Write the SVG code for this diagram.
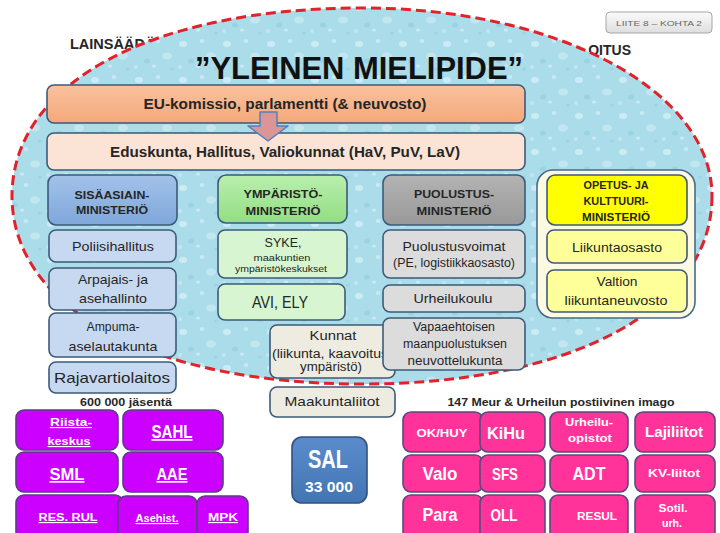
<svg xmlns="http://www.w3.org/2000/svg" width="720" height="533" viewBox="0 0 720 533">
<defs>
<style>
.t{font-family:"Liberation Sans",Arial,sans-serif;fill:#262626;text-anchor:middle}
.b{font-weight:bold}
.w{fill:#ffffff;font-weight:bold}
.u{text-decoration:underline}
.bx{stroke:#3d5a78;stroke-width:1.6}
.pu{fill:#cc00ff;stroke:#5b3c86;stroke-width:1.6}
.pk{fill:#ff3399;stroke:#5a4a7e;stroke-width:1.6}
</style>
<pattern id="drops" width="44" height="36" patternUnits="userSpaceOnUse">
<rect width="44" height="36" fill="#abdcea"/>
<ellipse cx="7" cy="8" rx="4" ry="3" fill="#d4eff7" opacity="0.8"/>
<ellipse cx="26" cy="5" rx="2.5" ry="2" fill="#d4eff7" opacity="0.7"/>
<ellipse cx="35" cy="20" rx="5" ry="3.5" fill="#cdebf4" opacity="0.7"/>
<ellipse cx="15" cy="25" rx="3" ry="2.5" fill="#8fcde0" opacity="0.6"/>
<ellipse cx="22" cy="30" rx="2" ry="1.5" fill="#d4eff7" opacity="0.8"/>
<ellipse cx="40" cy="33" rx="2" ry="1.5" fill="#93cfe1" opacity="0.6"/>
<ellipse cx="4" cy="31" rx="2" ry="2" fill="#c9e9f3" opacity="0.8"/>
</pattern>
<linearGradient id="gLiite" x1="0" y1="0" x2="0" y2="1">
<stop offset="0" stop-color="#fbfbfb"/><stop offset="1" stop-color="#dedede"/>
</linearGradient>
<linearGradient id="gEU" x1="0" y1="0" x2="0" y2="1">
<stop offset="0" stop-color="#f9c29e"/><stop offset="1" stop-color="#f5a87a"/>
</linearGradient>
<linearGradient id="gSis" x1="0" y1="0" x2="0" y2="1">
<stop offset="0" stop-color="#a3c2ea"/><stop offset="1" stop-color="#7fa7da"/>
</linearGradient>
<linearGradient id="gYmp" x1="0" y1="0" x2="0" y2="1">
<stop offset="0" stop-color="#b9efae"/><stop offset="1" stop-color="#92de82"/>
</linearGradient>
<linearGradient id="gPuo" x1="0" y1="0" x2="0" y2="1">
<stop offset="0" stop-color="#b3b3b3"/><stop offset="1" stop-color="#999999"/>
</linearGradient>
<linearGradient id="gSal" x1="0" y1="0" x2="0" y2="1">
<stop offset="0" stop-color="#5a8ccb"/><stop offset="1" stop-color="#4475b3"/>
</linearGradient>
</defs>

<rect width="720" height="533" fill="#ffffff"/>

<g id="liite">
<rect x="606" y="12" width="106" height="21" rx="4" fill="url(#gLiite)" stroke="#a6a6a6" stroke-width="1"/>
<text class="t" x="659" y="26" font-size="8" style="fill:#666666" textLength="86" lengthAdjust="spacingAndGlyphs">LIITE 8 – KOHTA 2</text>
</g>

<g id="headings">
<text class="t b" x="70" y="49" font-size="14.5" style="text-anchor:start">LAINSÄÄDÄ</text>
<text class="t b" x="631" y="55" font-size="14" style="text-anchor:end">OITUS</text>
</g>

<g id="yleinen-mielipide">
<path d="M712,196 C712,308.8 572,384 362,384 C152,384 12,308.8 12,196 C12,83.2 152,8 362,8 C558,8 712,91 712,196 Z" fill="url(#drops)" stroke="#e3212b" stroke-width="3" stroke-dasharray="10 5"/>
<text class="t b" x="359" y="79" font-size="31" style="fill:#111111" textLength="328" lengthAdjust="spacingAndGlyphs">”YLEINEN MIELIPIDE”</text>
</g>

<g id="eu">
<rect class="bx" x="47" y="85" width="478" height="38" rx="7" fill="url(#gEU)"/>
<text class="t b" x="285" y="109" font-size="14" textLength="283" lengthAdjust="spacingAndGlyphs">EU-komissio, parlamentti (&amp; neuvosto)</text>
</g>

<g id="eduskunta">
<rect class="bx" x="47" y="133" width="478" height="37" rx="7" fill="#fbe4d5"/>
<text class="t b" x="285" y="157" font-size="14" textLength="350" lengthAdjust="spacingAndGlyphs">Eduskunta, Hallitus, Valiokunnat (HaV, PuV, LaV)</text>
</g>

<g id="connectors">
<polygon points="260,112 277,112 277,126 288,126 268,141 248,126 260,126" fill="#d99694" stroke="#4f81bd" stroke-width="1.5" stroke-linejoin="round"/>
</g>

<!-- Sisäasiainministeriö column -->
<g id="sisaasiainministerio">
<rect class="bx" x="48" y="175" width="129" height="50" rx="8" fill="url(#gSis)"/>
<text class="t b" x="112" y="199" font-size="11.5" textLength="75" lengthAdjust="spacingAndGlyphs">SISÄASIAIN-</text>
<text class="t b" x="112" y="214" font-size="11.5" textLength="72" lengthAdjust="spacingAndGlyphs">MINISTERIÖ</text>
</g>
<g id="poliisihallitus">
<rect class="bx" x="49" y="230" width="127" height="32" rx="7" fill="#c6d9f1"/>
<text class="t" x="113" y="251" font-size="13.5" textLength="82" lengthAdjust="spacingAndGlyphs">Poliisihallitus</text>
</g>
<g id="arpajais">
<rect class="bx" x="49" y="268" width="127" height="42" rx="7" fill="#c6d9f1"/>
<text class="t" x="113" y="284" font-size="13.5" textLength="70" lengthAdjust="spacingAndGlyphs">Arpajais- ja</text>
<text class="t" x="113" y="303" font-size="13.5" textLength="68" lengthAdjust="spacingAndGlyphs">asehallinto</text>
</g>
<g id="ampuma">
<rect class="bx" x="49" y="313" width="127" height="44" rx="7" fill="#c6d9f1"/>
<text class="t" x="113" y="331" font-size="13.5" textLength="53" lengthAdjust="spacingAndGlyphs">Ampuma-</text>
<text class="t" x="113" y="351" font-size="13.5" textLength="89" lengthAdjust="spacingAndGlyphs">aselautakunta</text>
</g>
<g id="rajavartiolaitos">
<rect class="bx" x="49" y="362" width="127" height="31" rx="7" fill="#c6d9f1"/>
<text class="t" x="112" y="383" font-size="14.5" textLength="116" lengthAdjust="spacingAndGlyphs">Rajavartiolaitos</text>
</g>

<!-- Ympäristöministeriö column -->
<g id="ymparistoministerio">
<rect class="bx" x="218" y="175" width="129" height="48" rx="8" fill="url(#gYmp)"/>
<text class="t b" x="283" y="198" font-size="11.5" textLength="79" lengthAdjust="spacingAndGlyphs">YMPÄRISTÖ-</text>
<text class="t b" x="283" y="215" font-size="11.5" textLength="75" lengthAdjust="spacingAndGlyphs">MINISTERIÖ</text>
</g>
<g id="syke">
<rect class="bx" x="218" y="230" width="129" height="48" rx="7" fill="#d7f5d0"/>
<text class="t" x="283" y="247" font-size="13" textLength="37" lengthAdjust="spacingAndGlyphs">SYKE,</text>
<text class="t" x="282" y="261" font-size="9" textLength="57" lengthAdjust="spacingAndGlyphs">maakuntien</text>
<text class="t" x="281" y="272" font-size="9" textLength="92" lengthAdjust="spacingAndGlyphs">ympäristökeskukset</text>
</g>
<g id="avi-ely">
<rect class="bx" x="218" y="284" width="127" height="36" rx="7" fill="#d7f5d0"/>
<text class="t" x="280" y="308" font-size="16" textLength="56" lengthAdjust="spacingAndGlyphs">AVI, ELY</text>
</g>
<g id="kunnat">
<rect class="bx" x="270" y="325" width="125" height="53" rx="7" fill="#eeece1"/>
<text class="t" x="333" y="340" font-size="12" textLength="47" lengthAdjust="spacingAndGlyphs">Kunnat</text>
<text class="t" x="272" y="358" font-size="12" style="text-anchor:start" textLength="120" lengthAdjust="spacingAndGlyphs">(liikunta, kaavoitus,</text>
<text class="t" x="331" y="371" font-size="12" textLength="62" lengthAdjust="spacingAndGlyphs">ympäristö)</text>
</g>
<g id="maakuntaliitot">
<rect class="bx" x="270" y="387" width="125" height="30" rx="7" fill="#eeece1"/>
<text class="t" x="332" y="406" font-size="13" textLength="95" lengthAdjust="spacingAndGlyphs">Maakuntaliitot</text>
</g>

<!-- Puolustusministeriö column -->
<g id="puolustusministerio">
<rect class="bx" x="383" y="175" width="142" height="50" rx="8" fill="url(#gPuo)"/>
<text class="t b" x="454" y="198" font-size="11.5" textLength="80" lengthAdjust="spacingAndGlyphs">PUOLUSTUS-</text>
<text class="t b" x="454" y="215" font-size="11.5" textLength="75" lengthAdjust="spacingAndGlyphs">MINISTERIÖ</text>
</g>
<g id="puolustusvoimat">
<rect class="bx" x="383" y="230" width="142" height="48" rx="7" fill="#dcdcdc"/>
<text class="t" x="454" y="251" font-size="13" textLength="103" lengthAdjust="spacingAndGlyphs">Puolustusvoimat</text>
<text class="t" x="454" y="267" font-size="12" textLength="122" lengthAdjust="spacingAndGlyphs">(PE, logistiikkaosasto)</text>
</g>
<g id="urheilukoulu">
<rect class="bx" x="383" y="285" width="142" height="27" rx="7" fill="#dcdcdc"/>
<text class="t" x="453" y="303" font-size="13" textLength="79" lengthAdjust="spacingAndGlyphs">Urheilukoulu</text>
</g>
<g id="vapaaehtoisen">
<rect class="bx" x="383" y="318" width="142" height="52" rx="7" fill="#dcdcdc"/>
<text class="t" x="454" y="331" font-size="12" textLength="82" lengthAdjust="spacingAndGlyphs">Vapaaehtoisen</text>
<text class="t" x="455" y="348" font-size="12" textLength="104" lengthAdjust="spacingAndGlyphs">maanpuolustuksen</text>
<text class="t" x="455" y="365" font-size="12" textLength="95" lengthAdjust="spacingAndGlyphs">neuvottelukunta</text>
</g>

<!-- Opetus- ja kulttuuriministeriö -->
<g id="okm-ryhma">
<rect x="537" y="170" width="158" height="148" rx="16" fill="#fcfbe2" stroke="#4a6a8a" stroke-width="1.6"/>
</g>
<g id="opetusministerio">
<rect class="bx" x="547" y="175" width="140" height="50" rx="8" fill="#ffff00"/>
<text class="t b" x="616" y="189" font-size="10" textLength="65" lengthAdjust="spacingAndGlyphs">OPETUS- JA</text>
<text class="t b" x="616" y="205" font-size="10" textLength="65" lengthAdjust="spacingAndGlyphs">KULTTUURI-</text>
<text class="t b" x="616" y="221" font-size="10" textLength="68" lengthAdjust="spacingAndGlyphs">MINISTERIÖ</text>
</g>
<g id="liikuntaosasto">
<rect class="bx" x="547" y="230" width="140" height="33" rx="7" fill="#ffff99"/>
<text class="t" x="617" y="252" font-size="13" textLength="90" lengthAdjust="spacingAndGlyphs">Liikuntaosasto</text>
</g>
<g id="valtion-liikuntaneuvosto">
<rect class="bx" x="547" y="270" width="140" height="42" rx="7" fill="#ffff99"/>
<text class="t" x="617" y="286" font-size="13" textLength="41" lengthAdjust="spacingAndGlyphs">Valtion</text>
<text class="t" x="616" y="305" font-size="13" textLength="103" lengthAdjust="spacingAndGlyphs">liikuntaneuvosto</text>
</g>

<!-- Bottom left: purple -->
<g id="jasenta">
<text class="t b" x="126" y="406" font-size="11" textLength="92" lengthAdjust="spacingAndGlyphs">600 000 jäsentä</text>
</g>
<g id="riistakeskus">
<rect class="pu" x="16" y="410" width="102" height="40" rx="8"/>
<text class="t w u" x="71" y="426" font-size="11.5" textLength="42" lengthAdjust="spacingAndGlyphs">Riista-</text>
<text class="t w u" x="69" y="445" font-size="11.5" textLength="43" lengthAdjust="spacingAndGlyphs">keskus</text>
</g>
<g id="sahl">
<rect class="pu" x="123" y="410" width="100" height="40" rx="8"/>
<text class="t w u" x="172" y="438" font-size="18" textLength="41" lengthAdjust="spacingAndGlyphs">SAHL</text>
</g>
<g id="sml">
<rect class="pu" x="16" y="452" width="102" height="40" rx="8"/>
<text class="t w u" x="67" y="480" font-size="17" textLength="35" lengthAdjust="spacingAndGlyphs">SML</text>
</g>
<g id="aae">
<rect class="pu" x="123" y="452" width="100" height="40" rx="8"/>
<text class="t w u" x="172" y="480" font-size="17" textLength="31" lengthAdjust="spacingAndGlyphs">AAE</text>
</g>
<g id="res-rul">
<rect class="pu" x="16" y="495" width="107" height="45" rx="8"/>
<text class="t w u" x="68" y="521" font-size="11.5" textLength="59" lengthAdjust="spacingAndGlyphs">RES. RUL</text>
</g>
<g id="asehist">
<rect class="pu" x="118" y="496" width="79" height="44" rx="8"/>
<text class="t w u" x="157" y="522" font-size="11.5" textLength="43" lengthAdjust="spacingAndGlyphs">Asehist.</text>
</g>
<g id="mpk">
<rect class="pu" x="197" y="496" width="51" height="44" rx="8"/>
<text class="t w u" x="223" y="521" font-size="11.5" textLength="30" lengthAdjust="spacingAndGlyphs">MPK</text>
</g>

<!-- SAL -->
<g id="sal">
<rect x="292" y="437" width="75" height="66" rx="10" fill="url(#gSal)" stroke="#2f5280" stroke-width="1.6"/>
<text class="t w" x="328" y="468" font-size="26" textLength="40" lengthAdjust="spacingAndGlyphs">SAL</text>
<text class="t w" x="329" y="492" font-size="14" textLength="48" lengthAdjust="spacingAndGlyphs">33 000</text>
</g>

<!-- Bottom right: pink -->
<g id="meur">
<text class="t b" x="561" y="406" font-size="11.5" textLength="227" lengthAdjust="spacingAndGlyphs">147 Meur &amp; Urheilun postiivinen imago</text>
</g>
<g id="ok-huy">
<rect class="pk" x="403" y="412" width="80" height="40" rx="8"/>
<text class="t w" x="442" y="437" font-size="11" textLength="51" lengthAdjust="spacingAndGlyphs">OK/HUY</text>
</g>
<g id="kihu">
<rect class="pk" x="480" y="412" width="65" height="40" rx="8"/>
<text class="t w" x="506" y="439" font-size="17" textLength="38" lengthAdjust="spacingAndGlyphs">KiHu</text>
</g>
<g id="urheiluopistot">
<rect class="pk" x="550" y="412" width="78" height="40" rx="8"/>
<text class="t w" x="589" y="426" font-size="11.5" textLength="48" lengthAdjust="spacingAndGlyphs">Urheilu-</text>
<text class="t w" x="590" y="442" font-size="11.5" textLength="44" lengthAdjust="spacingAndGlyphs">opistot</text>
</g>
<g id="lajiliitot">
<rect class="pk" x="635" y="412" width="80" height="40" rx="8"/>
<text class="t w" x="674" y="437" font-size="15" textLength="58" lengthAdjust="spacingAndGlyphs">Lajiliitot</text>
</g>
<g id="valo">
<rect class="pk" x="403" y="455" width="80" height="37" rx="8"/>
<text class="t w" x="440" y="480" font-size="18" textLength="35" lengthAdjust="spacingAndGlyphs">Valo</text>
</g>
<g id="sfs">
<rect class="pk" x="480" y="455" width="65" height="37" rx="8"/>
<text class="t w" x="505" y="480" font-size="16" textLength="26" lengthAdjust="spacingAndGlyphs">SFS</text>
</g>
<g id="adt">
<rect class="pk" x="550" y="455" width="78" height="37" rx="8"/>
<text class="t w" x="589" y="480" font-size="18" textLength="33" lengthAdjust="spacingAndGlyphs">ADT</text>
</g>
<g id="kv-liitot">
<rect class="pk" x="635" y="455" width="80" height="37" rx="8"/>
<text class="t w" x="674" y="477" font-size="11.5" textLength="52" lengthAdjust="spacingAndGlyphs">KV-liitot</text>
</g>
<g id="para">
<rect class="pk" x="403" y="495" width="80" height="45" rx="8"/>
<text class="t w" x="440" y="521" font-size="18" textLength="35" lengthAdjust="spacingAndGlyphs">Para</text>
</g>
<g id="oll">
<rect class="pk" x="480" y="495" width="65" height="45" rx="8"/>
<text class="t w" x="504" y="521" font-size="17" textLength="27" lengthAdjust="spacingAndGlyphs">OLL</text>
</g>
<g id="resul">
<rect class="pk" x="550" y="495" width="78" height="45" rx="8"/>
<text class="t w" x="597" y="520" font-size="11" textLength="40" lengthAdjust="spacingAndGlyphs">RESUL</text>
</g>
<g id="sotil-urh">
<rect class="pk" x="635" y="495" width="80" height="45" rx="8"/>
<text class="t w" x="673" y="512" font-size="11" textLength="29" lengthAdjust="spacingAndGlyphs">Sotil.</text>
<text class="t w" x="672" y="527" font-size="11" textLength="20" lengthAdjust="spacingAndGlyphs">urh.</text>
</g>
</svg>
